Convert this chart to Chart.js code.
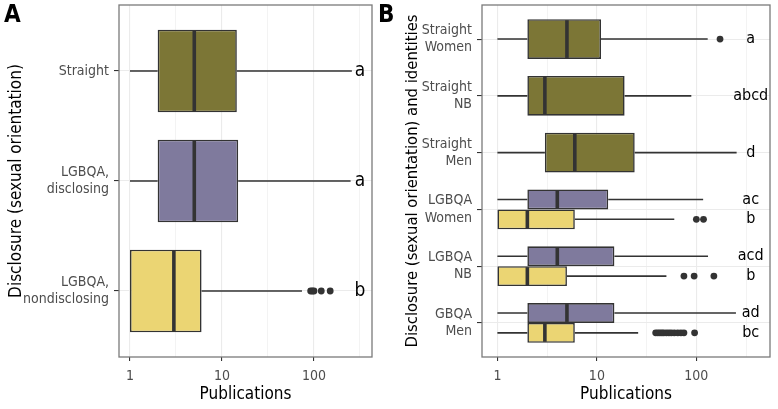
<!DOCTYPE html>
<html>
<head>
<meta charset="utf-8">
<script src="https://cdn.jsdelivr.net/npm/chart.js@4.4.1/dist/chart.umd.min.js"></script>
<style>
  body { margin: 0; background: #fff; width: 778px; height: 409px; position: relative; overflow: hidden; }
  .panel { position: absolute; top: 0; height: 409px; }
  #wrapA { left: 0; width: 390px; }
  #wrapB { left: 390px; width: 388px; }
  .tag { position: absolute; top: 0; z-index: 2; font: bold 24px 'Liberation Sans Narrow', 'DejaVu Sans Condensed', sans-serif; color: #000; }
</style>
</head>
<body>
<div class="tag" style="left:4px">A</div>
<div class="tag" style="left:378px">B</div>
<div class="panel" id="wrapA"><canvas id="chartA" width="390" height="409"></canvas></div>
<div class="panel" id="wrapB"><canvas id="chartB" width="388" height="409"></canvas></div>
<script>
// ── Data ───────────────────────────────────────────────────────────────────
// five-number rows: [lower whisker, Q1, median, Q3, upper whisker]

// Panel A — disclosure
const catsA = ["Straight", ["LGBQA,", "disclosing"], ["LGBQA,", "nondisclosing"]];
const statsA = [[1, 2, 5, 14.5, 258], [1, 2, 5, 15, 250], [1, 1, 3, 6, 74]];
const outliersA = [[], [], [92, 96, 100, 120, 150]];
const lettersA = ["a", "a", "b"];
const groupA = ["straight", "disclosing", "nondisclosing"];

// Panel B — disclosure and identities
const catsB = [["Straight", "Women"], ["Straight", "NB"], ["Straight", "Men"],
               ["LGBQA", "Women"], ["LGBQA", "NB"], ["GBQA", "Men"]];
const straightB = [[1, 2, 5, 11, 130], [1, 2, 3, 19, 89], [1, 3, 6, 24, 254], null, null, null];
const disclosingB = [null, null, null, [1, 2, 4, 13, 117], [1, 2, 4, 15, 131], [1, 2, 5, 15, 250]];
const nondisclosingB = [null, null, null, [1, 1, 2, 6, 60], [1, 1, 2, 5, 50], [1, 2, 3, 6, 26]];
const straightOutB = [[173], [], [], [], [], []];
const disclosingOutB = [[], [], [], [], [], []];
const nondisclosingOutB = [[], [], [], [100, 118], [75, 95, 150],
                           [39, 41, 43, 45, 47, 50, 53, 56, 60, 65, 70, 75, 96]];
const straightLettersB = ["a", "abcd", "d", "", "", ""];
const disclosingLettersB = ["", "", "", "ac", "acd", "ad"];
const nondisclosingLettersB = ["", "", "", "b", "b", "bc"];

// x-axis grid: majors labelled, half-decade minors unlabelled
const xTicks = [1, 3.1623, 10, 31.623, 100, 316.23];
const xLabels = { 1: "1", 10: "10", 100: "100" };

// ── Styling ────────────────────────────────────────────────────────────────
const FONT = "'Liberation Sans Narrow', 'DejaVu Sans Condensed', 'Roboto', sans-serif";
const COLORS = { straight: "#7c7636", disclosing: "#7f7a9d", nondisclosing: "#ebd573" };
const INK = "#333333";
const GRID = "#ebebeb";

Chart.defaults.font.family = FONT;
Chart.defaults.animation = false;

// Whiskers behind boxes; medians, outliers, letters and frame on top.
const boxExtras = {
  id: "boxExtras",
  beforeDatasetsDraw(chart) {
    const { ctx } = chart;
    const xs = chart.scales.x;
    ctx.save();
    ctx.strokeStyle = INK;
    ctx.lineWidth = 1.6;
    chart.data.datasets.forEach((ds, di) => {
      chart.getDatasetMeta(di).data.forEach((bar, i) => {
        const s = ds.stats[i];
        if (!s) return;
        ctx.beginPath();
        ctx.moveTo(xs.getPixelForValue(s[0]), bar.y);
        ctx.lineTo(xs.getPixelForValue(s[1]), bar.y);
        ctx.moveTo(xs.getPixelForValue(s[3]), bar.y);
        ctx.lineTo(xs.getPixelForValue(s[4]), bar.y);
        ctx.stroke();
      });
    });
    ctx.restore();
  },
  afterDatasetsDraw(chart, args, opts) {
    const { ctx, chartArea: area } = chart;
    const xs = chart.scales.x;
    ctx.save();
    chart.data.datasets.forEach((ds, di) => {
      chart.getDatasetMeta(di).data.forEach((bar, i) => {
        const s = ds.stats[i];
        if (!s) return;
        const half = bar.height / 2;
        // median
        ctx.strokeStyle = INK;
        ctx.lineWidth = 3.6;
        ctx.beginPath();
        ctx.moveTo(xs.getPixelForValue(s[2]), bar.y - half + 1);
        ctx.lineTo(xs.getPixelForValue(s[2]), bar.y + half - 1);
        ctx.stroke();
        // outliers
        ctx.fillStyle = INK;
        (ds.outliers[i] || []).forEach((v) => {
          ctx.beginPath();
          ctx.arc(xs.getPixelForValue(v), bar.y, 3.4, 0, Math.PI * 2);
          ctx.fill();
        });
        // significance letters
        const txt = ds.letters[i];
        if (txt) {
          ctx.fillStyle = "#000";
          ctx.font = `${opts.letterSize}px ${FONT}`;
          ctx.textAlign = "center";
          ctx.textBaseline = "middle";
          ctx.fillText(txt, xs.getPixelForValue(opts.letterX), bar.y);
        }
      });
    });
    // panel frame
    ctx.strokeStyle = "#7a7a7a";
    ctx.lineWidth = 1.3;
    ctx.strokeRect(area.left, area.top, area.right - area.left, area.bottom - area.top);
    ctx.restore();
  },
};

function boxDataset(stats, color, outliers, letters) {
  return {
    data: stats.map((s, i) => ({ y: i + 1, x: s ? [s[1], s[3]] : null })),
    stats, outliers, letters,
    backgroundColor: color,
    borderColor: INK,
    borderWidth: 1.6,
    borderSkipped: false,
    skipNull: true,
  };
}

function makeOptions(cats, cfg) {
  return {
    indexAxis: "y",
    responsive: false,
    layout: { padding: { top: 5, right: cfg.padRight, left: 0, bottom: 0 } },
    datasets: { bar: { categoryPercentage: cfg.boxWidth, barPercentage: 1 } },
    plugins: {
      legend: { display: false },
      tooltip: { enabled: false },
      boxExtras: { letterX: cfg.letterX, letterSize: cfg.letterSize },
    },
    scales: {
      x: {
        type: "logarithmic",
        min: cfg.xMin,
        max: cfg.xMax,
        afterBuildTicks: (scale) => { scale.ticks = xTicks.map((v) => ({ value: v })); },
        afterFit: (scale) => {
          scale.height = 52;
          scale.paddingLeft = 0;
          scale.paddingRight = 0;
        },
        ticks: {
          autoSkip: false,
          maxRotation: 0,
          padding: 7,
          color: "#4d4d4d",
          font: { size: 14 },
          callback: (v) => xLabels[v] || "",
        },
        grid: {
          color: GRID,
          lineWidth: (c) => (xLabels[c.tick && c.tick.value] ? 1.1 : 0.6),
          tickColor: (c) => (xLabels[c.tick && c.tick.value] ? INK : "rgba(0,0,0,0)"),
          tickLength: 4,
        },
        border: { display: false },
        title: { display: true, text: "Publications", color: "#000", font: { size: 17 }, padding: { top: 0, bottom: 4 } },
      },
      y: {
        type: "linear",
        reverse: true,
        offset: false,
        min: 0.4,
        max: cats.length + 0.6,
        afterBuildTicks: (scale) => { scale.ticks = cats.map((c, i) => ({ value: i + 1 })); },
        afterFit: (scale) => {
          // labels sit well inside the panel, so no extra room above/below
          scale.width = cfg.yWidth;
          scale.paddingTop = 0;
          scale.paddingBottom = 0;
        },
        ticks: {
          autoSkip: false,
          padding: cfg.yLabelPad,
          color: "#4d4d4d",
          font: { size: 14, lineHeight: 1.22 },
          callback: (v) => cats[v - 1],
        },
        grid: { offset: false, color: GRID, lineWidth: 1.1, tickColor: INK, tickLength: 5 },
        border: { display: false },
        title: { display: true, text: cfg.yTitle, color: "#000", font: { size: cfg.yTitleSize }, padding: { top: cfg.yTitlePad, bottom: 0 } },
      },
    },
  };
}

// ── Panel A ────────────────────────────────────────────────────────────────
new Chart(document.getElementById("chartA"), {
  type: "bar",
  data: {
    datasets: [
      Object.assign(boxDataset(statsA, groupA.map((g) => COLORS[g]), outliersA, lettersA), { skipNull: false }),
    ],
  },
  options: makeOptions(catsA, {
    padRight: 18, boxWidth: 0.75, xMin: 0.76, xMax: 427, letterX: 316, letterSize: 19,
    yWidth: 119, yLabelPad: 5, yTitlePad: 6, yTitleSize: 17, yTitle: "Disclosure (sexual orientation)",
  }),
  plugins: [boxExtras],
});

// ── Panel B ────────────────────────────────────────────────────────────────
new Chart(document.getElementById("chartB"), {
  type: "bar",
  data: {
    datasets: [
      boxDataset(straightB, COLORS.straight, straightOutB, straightLettersB),
      boxDataset(disclosingB, COLORS.disclosing, disclosingOutB, disclosingLettersB),
      boxDataset(nondisclosingB, COLORS.nondisclosing, nondisclosingOutB, nondisclosingLettersB),
    ],
  },
  options: makeOptions(catsB, {
    padRight: 8, boxWidth: 0.7, xMin: 0.74, xMax: 550, letterX: 352, letterSize: 16,
    yWidth: 92, yLabelPad: 5, yTitlePad: 13, yTitleSize: 16.5, yTitle: "Disclosure (sexual orientation) and identities",
  }),
  plugins: [boxExtras],
});
</script>
</body>
</html>
